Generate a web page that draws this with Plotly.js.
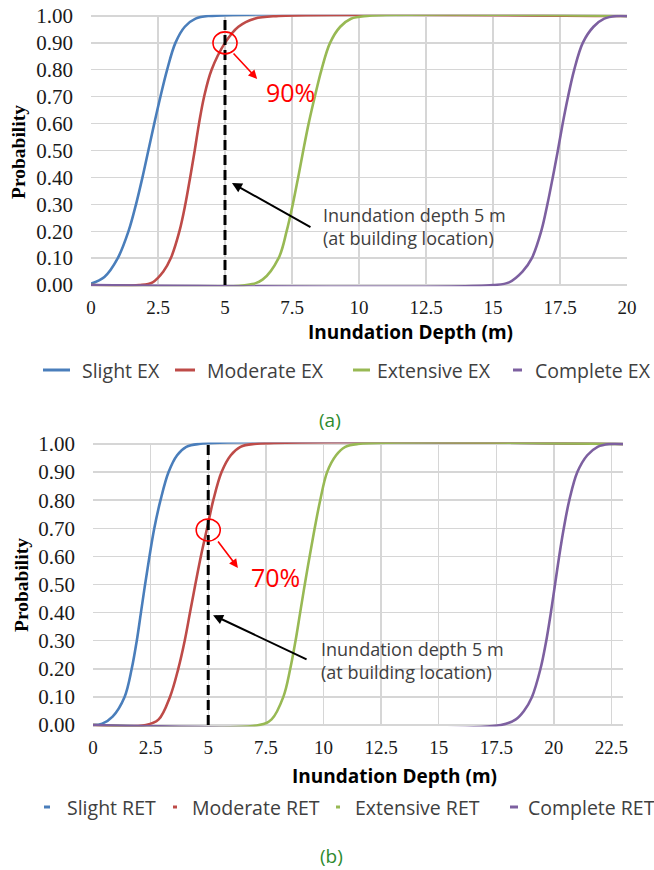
<!DOCTYPE html>
<html>
<head>
<meta charset="utf-8">
<script src="https://cdn.plot.ly/plotly-3.0.1.min.js"></script>
<style>
  html, body { margin: 0; padding: 0; background: #ffffff; }
  #chart { width: 654px; height: 870px; }
</style>
</head>
<body>
<div id="chart"></div>
<script>
// ---------- DATA ----------
// (a) EX fragility curves: inundation depth (m) where each probability level is reached
const depthSlightEX    = [0, 0.5, 1.0, 1.4, 1.68, 1.92, 2.14, 2.36, 2.59, 2.84, 3.15, 3.5, 3.9, 4.4, 20];
const probSlightEX     = [0.005, 0.03, 0.1, 0.2, 0.3, 0.4, 0.5, 0.6, 0.7, 0.8, 0.9, 0.96, 0.99, 1.0, 1.0];
const depthModerateEX  = [0, 1.8, 2.3, 2.7, 2.98, 3.3, 3.52, 3.7, 3.87, 4.03, 4.22, 4.5, 5.0, 5.5, 6.1, 7.0, 20];
const probModerateEX   = [0, 0, 0.01, 0.05, 0.1, 0.2, 0.3, 0.4, 0.5, 0.6, 0.7, 0.8, 0.9, 0.96, 0.99, 1.0, 1.0];
const depthExtensiveEX = [0, 5.8, 6.4, 7.0, 7.3, 7.53, 7.73, 7.92, 8.12, 8.35, 8.6, 8.92, 9.3, 9.7, 10.3, 20];
const probExtensiveEX  = [0, 0, 0.02, 0.1, 0.2, 0.3, 0.4, 0.5, 0.6, 0.7, 0.8, 0.9, 0.96, 0.99, 1.0, 1.0];
const depthCompleteEX  = [0, 15.0, 15.6, 16.1, 16.45, 16.8, 17.03, 17.23, 17.42, 17.6, 17.8, 18.03, 18.35, 18.75, 19.15, 19.6, 20];
const probCompleteEX   = [0, 0, 0.01, 0.05, 0.1, 0.2, 0.3, 0.4, 0.5, 0.6, 0.7, 0.8, 0.9, 0.96, 0.99, 1.0, 1.0];

// (b) RET fragility curves
const depthSlightRET    = [0, 0.4, 0.85, 1.37, 1.68, 1.9, 2.08, 2.26, 2.45, 2.66, 2.93, 3.28, 3.65, 4.05, 4.6, 23];
const probSlightRET     = [0, 0.005, 0.03, 0.1, 0.2, 0.3, 0.4, 0.5, 0.6, 0.7, 0.8, 0.9, 0.96, 0.99, 1.0, 1.0];
const depthModerateRET  = [0, 2.3, 2.85, 3.34, 3.7, 3.98, 4.21, 4.44, 4.68, 4.95, 5.22, 5.58, 5.98, 6.4, 7.0, 23];
const probModerateRET   = [0, 0, 0.02, 0.1, 0.2, 0.3, 0.4, 0.5, 0.6, 0.7, 0.8, 0.9, 0.96, 0.99, 1.0, 1.0];
const depthExtensiveRET = [0, 7.2, 7.75, 8.26, 8.56, 8.79, 8.99, 9.19, 9.4, 9.62, 9.86, 10.16, 10.55, 10.95, 11.5, 23];
const probExtensiveRET  = [0, 0, 0.02, 0.1, 0.2, 0.3, 0.4, 0.5, 0.6, 0.7, 0.8, 0.9, 0.96, 0.99, 1.0, 1.0];
const depthCompleteRET  = [0, 17.7, 18.35, 18.7, 19.05, 19.42, 19.67, 19.87, 20.05, 20.23, 20.43, 20.67, 21.02, 21.45, 21.9, 22.4, 23];
const probCompleteRET   = [0, 0, 0.02, 0.05, 0.1, 0.2, 0.3, 0.4, 0.5, 0.6, 0.7, 0.8, 0.9, 0.96, 0.99, 1.0, 1.0];

const namesEX  = ['Slight EX', 'Moderate EX', 'Extensive EX', 'Complete EX'];
const namesRET = ['Slight RET', 'Moderate RET', 'Extensive RET', 'Complete RET'];

const buildingDepth = 5;       // m, inundation depth at building location
const probAtDepthEX  = 0.90;   // moderate EX probability at 5 m
const probAtDepthRET = 0.694;  // moderate RET probability at 5 m
const labelEX  = '90%';
const labelRET = '70%';

const yTicks = [0, 0.1, 0.2, 0.3, 0.4, 0.5, 0.6, 0.7, 0.8, 0.9, 1.0];
const xTicksEX  = [0, 2.5, 5, 7.5, 10, 12.5, 15, 17.5, 20];
const xTicksRET = [0, 2.5, 5, 7.5, 10, 12.5, 15, 17.5, 20, 22.5];

// ---------- STYLE ----------
const colors = ['#4a7ebb', '#be4b48', '#98b954', '#7d60a0'];
const W = 654, H = 870;
const px = v => v / W;
const py = v => 1 - v / H;

function line(x, y, name, color, xa, ya) {
  return {
    x: x, y: y, name: name, type: 'scatter', mode: 'lines',
    xaxis: xa, yaxis: ya, showlegend: false, hoverinfo: 'skip',
    line: { color: color, width: 2.6, shape: 'spline', smoothing: 1.0 }
  };
}

const traces = [
  line(depthSlightEX, probSlightEX, namesEX[0], colors[0], 'x', 'y'),
  line(depthModerateEX, probModerateEX, namesEX[1], colors[1], 'x', 'y'),
  line(depthExtensiveEX, probExtensiveEX, namesEX[2], colors[2], 'x', 'y'),
  line(depthCompleteEX, probCompleteEX, namesEX[3], colors[3], 'x', 'y'),
  line(depthSlightRET, probSlightRET, namesRET[0], colors[0], 'x2', 'y2'),
  line(depthModerateRET, probModerateRET, namesRET[1], colors[1], 'x2', 'y2'),
  line(depthExtensiveRET, probExtensiveRET, namesRET[2], colors[2], 'x2', 'y2'),
  line(depthCompleteRET, probCompleteRET, namesRET[3], colors[3], 'x2', 'y2')
];

const serif = '"Liberation Serif", "Times New Roman", serif';
const sans = '"Open Sans", "Noto Sans", sans-serif';
const xTickFont = { family: serif, size: 19, color: '#1a1a1a' };
const yTickFont = { family: serif, size: 21, color: '#1a1a1a' };
const gridColor = '#d6d6d6';

function xAxis(domain, maxX, ticks) {
  return {
    domain: domain, range: [0, maxX], tickvals: ticks, ticktext: ticks.map(String),
    showgrid: true, gridcolor: gridColor, gridwidth: 1.4,
    zeroline: false, showline: false, ticks: '', ticklabelstandoff: 8,
    tickfont: xTickFont, fixedrange: true
  };
}
function yAxis(domain, anchor) {
  return {
    domain: domain, range: [-0.005, 1.005], tickvals: yTicks, ticktext: yTicks.map(v => v.toFixed(2)),
    showgrid: true, gridcolor: gridColor, gridwidth: 1.4,
    zeroline: false, showline: false, ticks: '', ticklabelstandoff: 17,
    tickfont: yTickFont, anchor: anchor, fixedrange: true
  };
}

const shapes = [];
const annotations = [];

// vertical dashed building-depth lines
shapes.push({ type: 'line', xref: 'x', yref: 'y', x0: buildingDepth, x1: buildingDepth, y0: 0, y1: 1,
  line: { color: '#000', width: 3, dash: '10px,5px' } });
shapes.push({ type: 'line', xref: 'x2', yref: 'y2', x0: buildingDepth, x1: buildingDepth, y0: 0, y1: 1,
  line: { color: '#000', width: 3, dash: '10px,5px' } });

// red circles
shapes.push({ type: 'circle', xref: 'x', yref: 'y', xsizemode: 'pixel', ysizemode: 'pixel',
  xanchor: buildingDepth, yanchor: probAtDepthEX, x0: -12, x1: 12, y0: -11, y1: 11,
  line: { color: '#ff0000', width: 1.6 } });
shapes.push({ type: 'circle', xref: 'x2', yref: 'y2', xsizemode: 'pixel', ysizemode: 'pixel',
  xanchor: buildingDepth, yanchor: probAtDepthRET, x0: -12, x1: 12, y0: -11, y1: 11,
  line: { color: '#ff0000', width: 1.6 } });

// red arrows + percentage labels
annotations.push({ xref: 'x', yref: 'y', x: 6.2, y: 0.766, ax: -25, ay: -27, text: '', showarrow: true,
  arrowcolor: '#ff0000', arrowwidth: 1.6, arrowhead: 2, arrowsize: 1.1 });
annotations.push({ xref: 'x', yref: 'y', x: 7.43, y: 0.717, xanchor: 'center', yanchor: 'middle', text: labelEX, showarrow: false,
  font: { family: sans, size: 25, color: '#ff0000' } });
annotations.push({ xref: 'x2', yref: 'y2', x: 6.29, y: 0.559, ax: -21, ay: -28, text: '', showarrow: true,
  arrowcolor: '#ff0000', arrowwidth: 1.6, arrowhead: 2, arrowsize: 1.1 });
annotations.push({ xref: 'x2', yref: 'y2', x: 7.9, y: 0.527, xanchor: 'center', yanchor: 'middle', text: labelRET, showarrow: false,
  font: { family: sans, size: 25, color: '#ff0000' } });

// black arrows + notes
const note = 'Inundation depth 5 m<br>(at building location)';
annotations.push({ xref: 'x', yref: 'y', x: 5.26, y: 0.379, ax: 80, ay: 45, text: '', showarrow: true,
  arrowcolor: '#000', arrowwidth: 2, arrowhead: 2, arrowsize: 1 });
annotations.push({ xref: 'x', yref: 'y', x: 8.6, y: 0.2175, xanchor: 'left', yanchor: 'middle', align: 'left', text: note,
  showarrow: false, font: { family: sans, size: 18, color: '#404040' } });
annotations.push({ xref: 'x2', yref: 'y2', x: 5.21, y: 0.391, ax: 95, ay: 45, text: '', showarrow: true,
  arrowcolor: '#000', arrowwidth: 2, arrowhead: 2, arrowsize: 1 });
annotations.push({ xref: 'x2', yref: 'y2', x: 9.8, y: 0.2295, xanchor: 'left', yanchor: 'middle', align: 'left', text: note,
  showarrow: false, font: { family: sans, size: 18, color: '#404040' } });

// axis titles
const titleFontX = { family: sans, size: 19, color: '#000', weight: 'bold' };
const titleFontY = { family: serif, size: 19.5, color: '#000', weight: 'bold' };
function paperText(x, y, text, font, extra) {
  annotations.push(Object.assign({ xref: 'paper', yref: 'paper', x: px(x), y: py(y), xanchor: 'center', yanchor: 'middle',
    text: text, showarrow: false, font: font }, extra || {}));
}
paperText(410, 332, '<b>Inundation Depth (m)</b>', titleFontX);
paperText(394, 776, '<b>Inundation Depth (m)</b>', titleFontX);
paperText(18, 152, '<b>Probability</b>', titleFontY, { textangle: -90 });
paperText(21, 585, '<b>Probability</b>', titleFontY, { textangle: -90 });

// legends (drawn manually, as in the reference)
const legendFont = { family: sans, size: 19.5, color: '#404040' };
const legEX = [ [43, 70, 80], [175, 195, 205], [353, 370, 375], [513, 522, 533] ];
const legRET = [ [44, 50, 65], [173, 177, 190], [336, 340, 353], [510, 518, 526] ];
function addLegend(items, names, yPix) {
  items.forEach((it, i) => {
    shapes.push({ type: 'line', xref: 'paper', yref: 'paper', x0: px(it[0]), x1: px(it[1]), y0: py(yPix), y1: py(yPix),
      line: { color: colors[i], width: 3 } });
    annotations.push({ xref: 'paper', yref: 'paper', x: px(it[2]), y: py(yPix), xanchor: 'left', yanchor: 'middle',
      text: names[i], showarrow: false, font: legendFont });
  });
}
addLegend(legEX, namesEX, 370);
addLegend(legRET, namesRET, 807);

// panel labels
paperText(330, 420, '(a)', { family: sans, size: 19, color: '#2e8b2e' });
paperText(331, 856, '(b)', { family: sans, size: 19, color: '#2e8b2e' });

// domains (pixel geometry from reference)
const topY0 = 285, topY1 = 16, botY0 = 725, botY1 = 444;
function yDom(y0, y1) {
  const h = y0 - y1, pad = h * 0.005;
  return [py(y0 + pad), py(y1 - pad)];
}

const layout = {
  width: W, height: H,
  margin: { l: 0, r: 0, t: 0, b: 0 },
  paper_bgcolor: '#ffffff', plot_bgcolor: '#ffffff',
  showlegend: false,
  xaxis: Object.assign(xAxis([px(91), px(627)], 20, xTicksEX), { anchor: 'y' }),
  yaxis: yAxis(yDom(topY0, topY1), 'x'),
  xaxis2: Object.assign(xAxis([px(93), px(623)], 23, xTicksRET), { anchor: 'y2' }),
  yaxis2: yAxis(yDom(botY0, botY1), 'x2'),
  shapes: shapes,
  annotations: annotations
};

Plotly.newPlot('chart', traces, layout, { displayModeBar: false, staticPlot: true });
</script>
</body>
</html>
